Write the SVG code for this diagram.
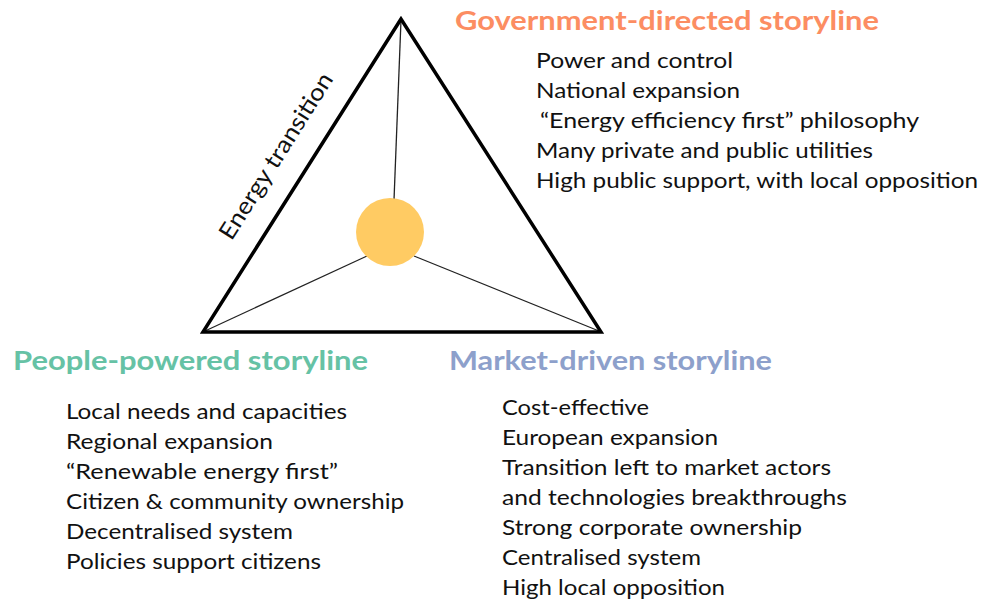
<svg xmlns="http://www.w3.org/2000/svg" width="982" height="603" viewBox="0 0 982 603">
<style>
.h{font-family:Lato,"Open Sans","Liberation Sans",sans-serif;font-weight:bold;font-size:27px}
.b{font-family:Lato,"Open Sans","Liberation Sans",sans-serif;font-size:21px;fill:#111}
.spoke{stroke:#222;stroke-width:1.3;fill:none}
</style>
<rect width="982" height="603" fill="#fff"/>
<g id="connectors">
<line class="spoke" x1="394" y1="200" x2="401" y2="20"/>
<line class="spoke" x1="367" y1="256" x2="205" y2="331"/>
<line class="spoke" x1="414" y1="256" x2="599" y2="331"/>
</g>
<g id="triangle">
<polygon points="401,19 203,332 601,332" fill="none" stroke="#000" stroke-width="3.5" stroke-linejoin="miter"/>
<text class="b" transform="translate(276,156) rotate(-57.7)" text-anchor="middle" y="8" style="font-size:23.5px" textLength="192" lengthAdjust="spacingAndGlyphs">Energy transition</text>
</g>
<g id="center">
<circle cx="390" cy="232" r="34" fill="#FFCB63"/>
</g>
<g id="government">
<text class="h" x="455" y="30" fill="#FC8D62" textLength="424" lengthAdjust="spacingAndGlyphs">Government-directed storyline</text>
<text class="b" x="536" y="68" textLength="197" lengthAdjust="spacingAndGlyphs">Power and control</text>
<text class="b" x="536" y="98" textLength="204" lengthAdjust="spacingAndGlyphs">National expansion</text>
<text class="b" x="540" y="128" textLength="379" lengthAdjust="spacingAndGlyphs">“Energy efficiency first” philosophy</text>
<text class="b" x="536" y="158" textLength="337" lengthAdjust="spacingAndGlyphs">Many private and public utilities</text>
<text class="b" x="536" y="188" textLength="442" lengthAdjust="spacingAndGlyphs">High public support, with local opposition</text>
</g>
<g id="people">
<text class="h" x="13" y="370" fill="#66C2A5" textLength="355" lengthAdjust="spacingAndGlyphs">People-powered storyline</text>
<text class="b" x="66" y="419" textLength="281" lengthAdjust="spacingAndGlyphs">Local needs and capacities</text>
<text class="b" x="66" y="449" textLength="207" lengthAdjust="spacingAndGlyphs">Regional expansion</text>
<text class="b" x="66" y="479" textLength="272" lengthAdjust="spacingAndGlyphs">“Renewable energy first”</text>
<text class="b" x="66" y="509" textLength="338" lengthAdjust="spacingAndGlyphs">Citizen &amp; community ownership</text>
<text class="b" x="66" y="539" textLength="227" lengthAdjust="spacingAndGlyphs">Decentralised system</text>
<text class="b" x="66" y="569" textLength="255" lengthAdjust="spacingAndGlyphs">Policies support citizens</text>
</g>
<g id="market">
<text class="h" x="449" y="370" fill="#8DA0CB" textLength="323" lengthAdjust="spacingAndGlyphs">Market-driven storyline</text>
<text class="b" x="502" y="415" textLength="147" lengthAdjust="spacingAndGlyphs">Cost-effective</text>
<text class="b" x="502" y="445" textLength="216" lengthAdjust="spacingAndGlyphs">European expansion</text>
<text class="b" x="502" y="475" textLength="329" lengthAdjust="spacingAndGlyphs">Transition left to market actors</text>
<text class="b" x="502" y="505" textLength="345" lengthAdjust="spacingAndGlyphs">and technologies breakthroughs</text>
<text class="b" x="502" y="535" textLength="300" lengthAdjust="spacingAndGlyphs">Strong corporate ownership</text>
<text class="b" x="502" y="565" textLength="199" lengthAdjust="spacingAndGlyphs">Centralised system</text>
<text class="b" x="502" y="595" textLength="223" lengthAdjust="spacingAndGlyphs">High local opposition</text>
</g>
</svg>
